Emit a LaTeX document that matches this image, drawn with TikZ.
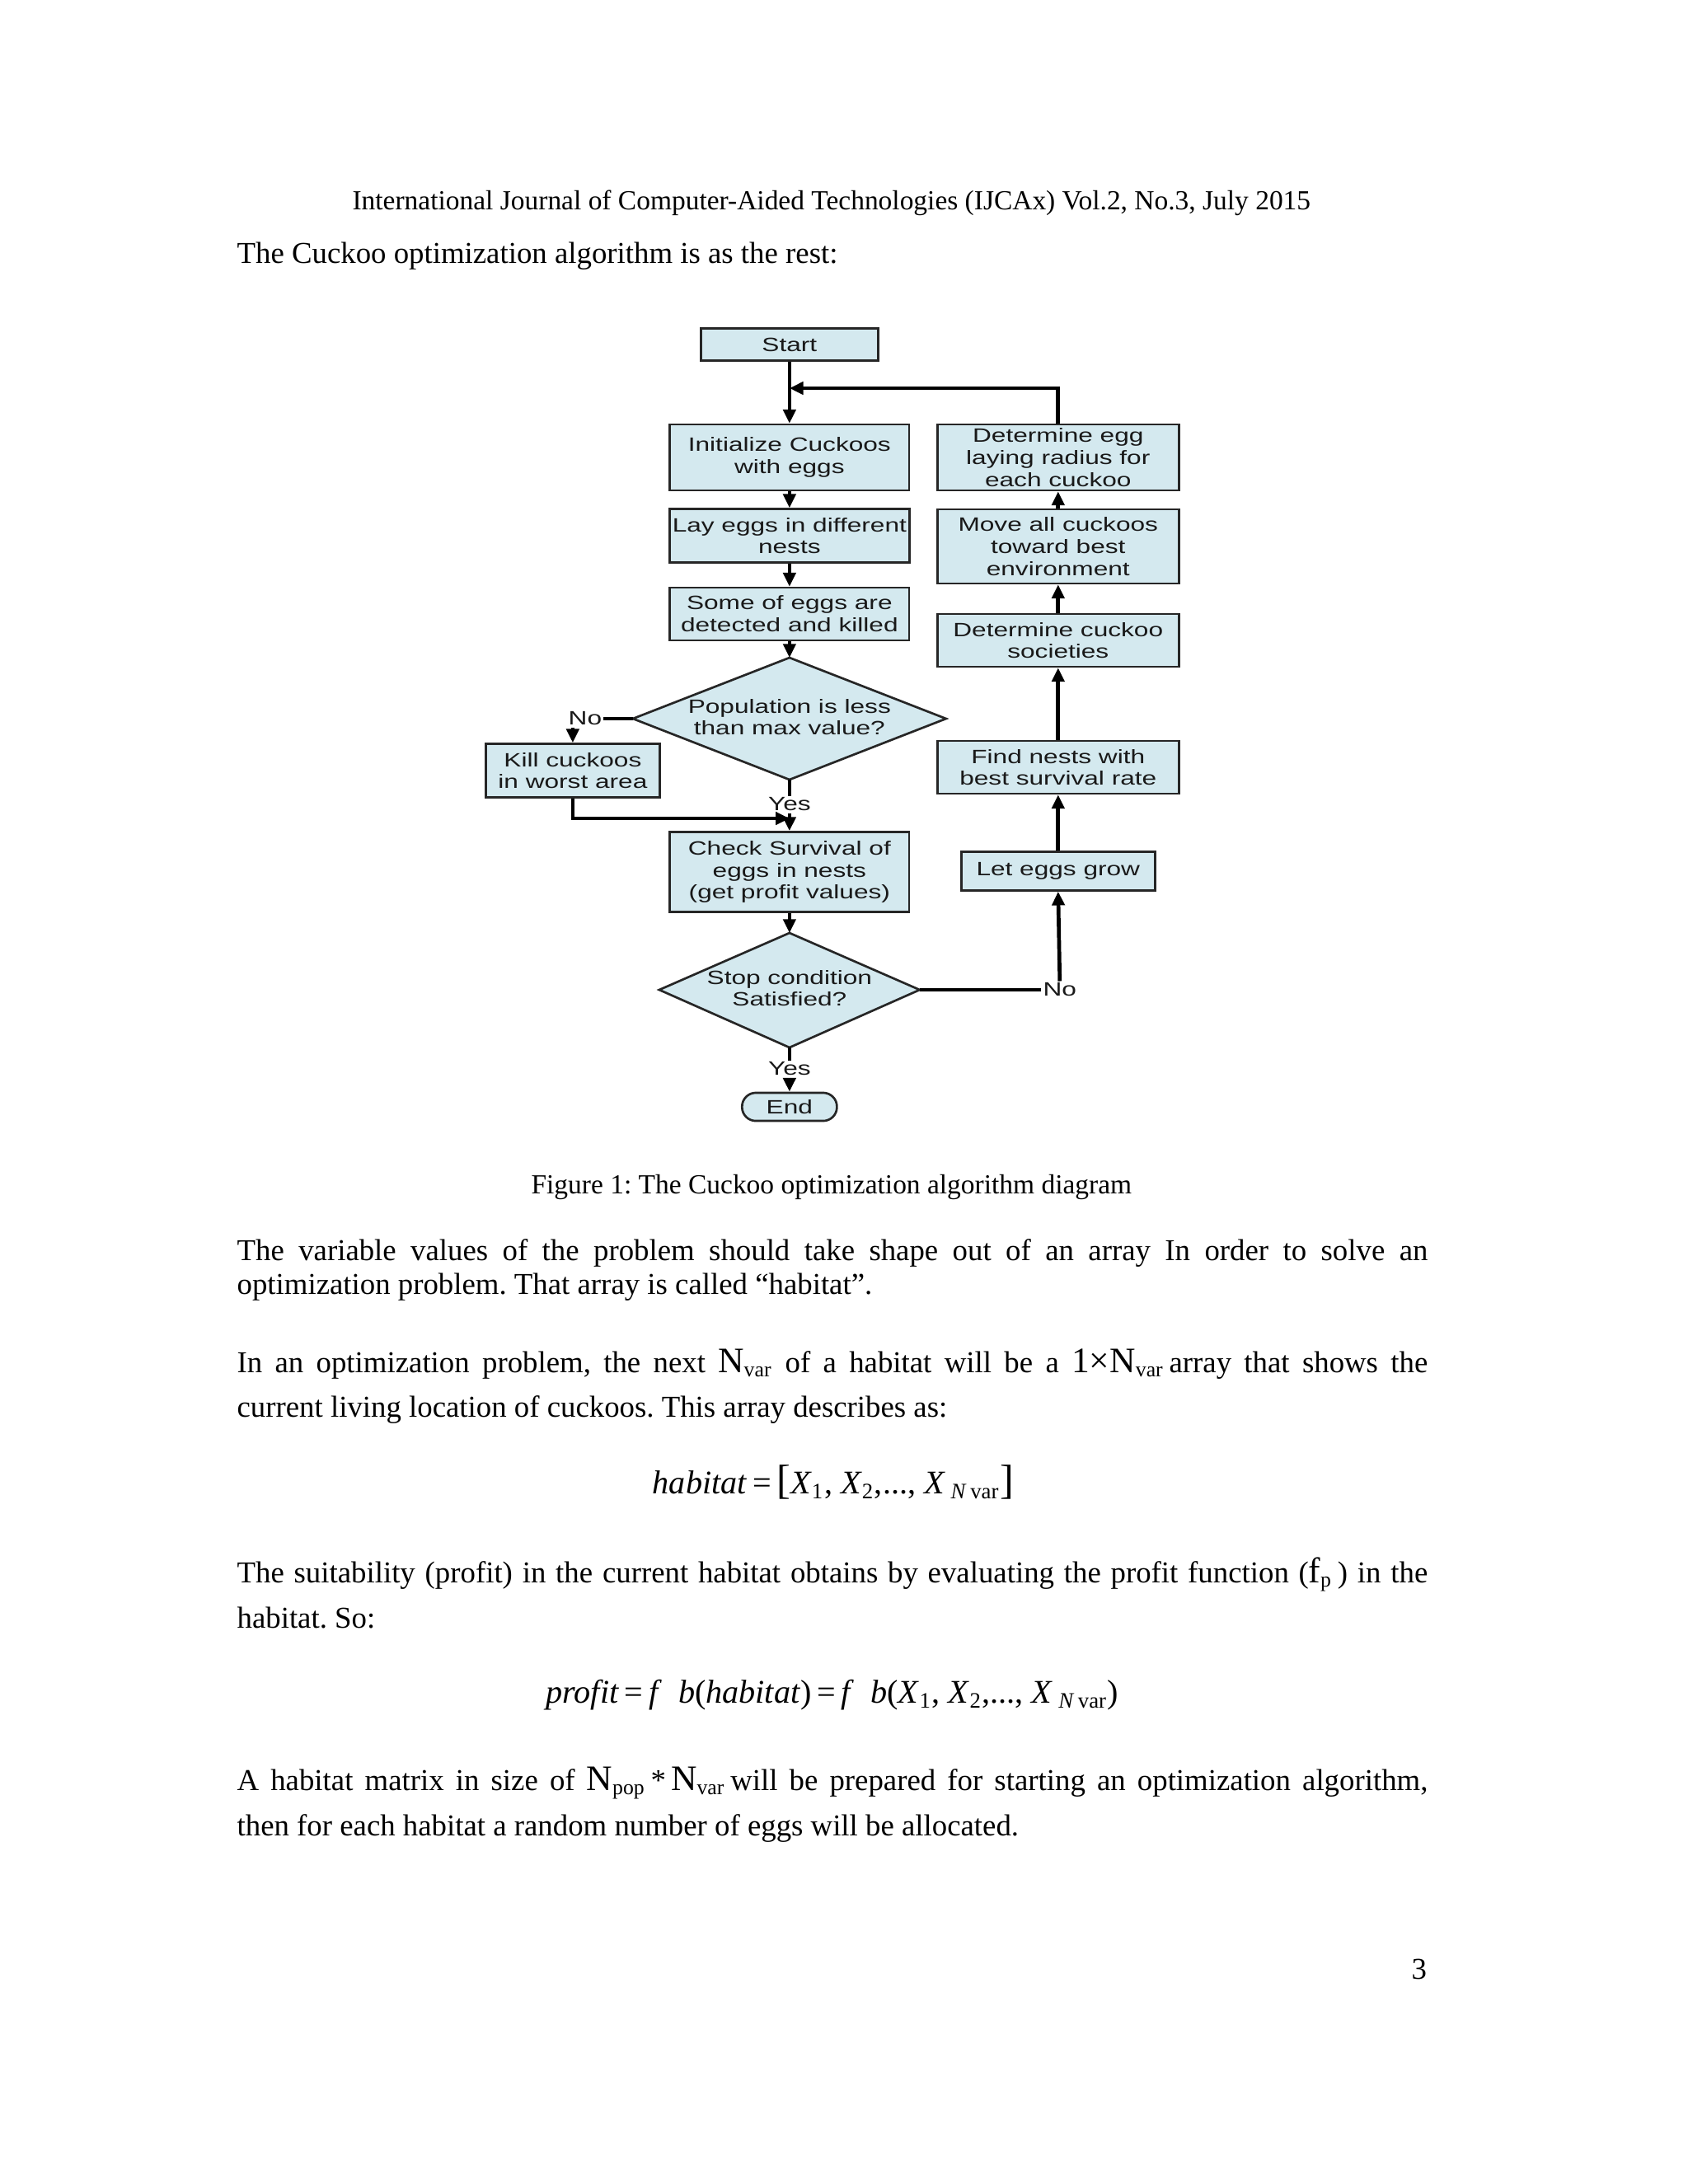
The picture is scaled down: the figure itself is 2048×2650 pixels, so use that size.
\documentclass[tikz,border=0pt]{standalone}
\usepackage{fontspec}
\setmainfont{Liberation Serif}
\newfontfamily\fcfont[FakeStretch=1.35]{Liberation Sans}
\usetikzlibrary{shapes.geometric,arrows.meta}
\definecolor{cfill}{RGB}{212,233,239}
\newlength\tw \setlength\tw{431.8pt}
\newcommand\sub[1]{\textsubscript{#1}}
\newcommand\bigN{{\fontsize{13}{13}\selectfont N}}
\frenchspacing
\begin{document}
\begin{tikzpicture}[x=0.29883pt,y=-0.29887pt,
  fcbox/.style={draw=black!85, line width=0.8pt, fill=cfill, font=\fcfont\fontsize{7}{8}\selectfont, align=center, inner sep=1pt, text=black!90},
  fcshape/.style={draw=black!85, line width=0.8pt, fill=cfill},
  conn/.style={line width=1.4pt, -{Triangle[width=4.5pt,length=5pt]}},
  plainln/.style={line width=1.4pt},
  thinln/.style={line width=1pt},
  lbl/.style={font=\fcfont\fontsize{7}{8}\selectfont, inner sep=0.5pt, text=black!90, align=center},
  body/.style={font=\fontsize{11}{13}\selectfont, inner sep=0pt, anchor=base west},
  bodyc/.style={font=\fontsize{11}{13}\selectfont, inner sep=0pt, anchor=base}]
\useasboundingbox[fill=white] (0,0) rectangle (2048,2650);

% header and text
\node[font=\fontsize{10}{12}\selectfont, inner sep=0pt, anchor=base] (hdr) at (1009,254) {International Journal of Computer-Aided Technologies (IJCAx) Vol.2, No.3, July 2015};
\node[body] (intro) at (287,319) {The Cuckoo optimization algorithm is as the rest:};

% flowchart boxes
\node[fcbox, minimum width=64.2pt, minimum height=11.7pt] (start) at (958,418) {Start};
\node[fcbox, minimum width=86.7pt, minimum height=23.9pt] (init) at (958,555) {Initialize Cuckoos\\with eggs};
\node[fcbox, minimum width=86.7pt, minimum height=19.4pt] (lay) at (958,650) {Lay eggs in different\\nests};
\node[fcbox, minimum width=86.7pt, minimum height=19.1pt] (some) at (958,745) {Some of eggs are\\detected and killed};

% population diamond
\coordinate (popn) at (958,798);
\coordinate (pope) at (1148,872);
\coordinate (pops) at (958,946);
\coordinate (popw) at (768,872);
\draw[fcshape] (popn) -- (pope) -- (pops) -- (popw) -- cycle;
\node[lbl] (poptxt) at (958,870) {Population is less\\than max value?};

\node[fcbox, minimum width=63pt, minimum height=19.4pt] (kill) at (695,935) {Kill cuckoos\\in worst area};
\node[fcbox, minimum width=86.7pt, minimum height=29pt] (check) at (958,1058) {Check Survival of\\eggs in nests\\(get profit values)};

% stop diamond
\coordinate (stopn) at (958,1132);
\coordinate (stope) at (1116,1201);
\coordinate (stops) at (958,1271);
\coordinate (stopw) at (800,1201);
\draw[fcshape] (stopn) -- (stope) -- (stops) -- (stopw) -- cycle;
\node[lbl] (stoptxt) at (958,1199) {Stop condition\\Satisfied?};

\node[fcbox, rounded corners=5pt, minimum width=34.4pt, minimum height=10.2pt] (endn) at (958,1343) {End};

\node[fcbox, minimum width=87.5pt, minimum height=23.9pt] (detegg) at (1284,555) {Determine egg\\laying radius for\\each cuckoo};
\node[fcbox, minimum width=87.5pt, minimum height=26.9pt] (move) at (1284,663) {Move all cuckoos\\toward best\\environment};
\node[fcbox, minimum width=87.5pt, minimum height=19.1pt] (detsoc) at (1284,777) {Determine cuckoo\\societies};
\node[fcbox, minimum width=87.5pt, minimum height=19.1pt] (find) at (1284,931) {Find nests with\\best survival rate};
\node[fcbox, minimum width=70.2pt, minimum height=14pt] (grow) at (1284,1057) {Let eggs grow};

% labels
\node[lbl] (no1) at (710,872) {No};
\node[lbl] (yes1) at (958,976) {Yes};
\node[lbl] (yes2) at (958,1297) {Yes};
\node[lbl] (no2) at (1286,1201) {No};

% coordinates
\coordinate (loopj) at (958,471);
\coordinate (loopc) at (1284,471);
\coordinate (killc) at (695,993);
\coordinate (killj) at (958,993);
\coordinate (noarr) at (kill.north |- no1.south);

% connectors
\draw[conn] (start.south) -- (init.north);
\draw[conn] (detegg.north) -- (loopc) -- (loopj);
\draw[conn] (init.south) -- (lay.north);
\draw[conn] (lay.south) -- (some.north);
\draw[conn] (some.south) -- (popn);
\draw[thinln] (popw) -- (no1.east);
\draw[conn] (noarr) -- (kill.north);
\draw[plainln] (pops) -- (yes1.north);
\draw[conn] (yes1.south) -- (check.north);
\draw[conn] (kill.south) -- (killc) -- (killj);
\draw[conn] (check.south) -- (stopn);
\draw[plainln] (stops) -- (yes2.north);
\draw[conn] (yes2.south) -- (endn.north);
\draw[thinln] (stope) -- (no2.west);
\draw[conn] (no2.north) -- (grow.south);
\draw[conn] (grow.north) -- (find.south);
\draw[conn] (find.north) -- (detsoc.south);
\draw[conn] (detsoc.north) -- (move.south);
\draw[conn] (move.north) -- (detegg.south);

% caption
\node[bodyc, font=\fontsize{10}{12}\selectfont] (cap) at (1009,1448) {Figure 1: The Cuckoo optimization algorithm diagram};

% paragraph 1
\node[body] (p1a) at (287,1529) {\makebox[\tw][s]{The variable values of the problem should take shape out of an array In order to solve an}};
\node[body] (p1b) at (287,1570) {optimization problem. That array is called “habitat”.};

% paragraph 2
\node[body] (p2a) at (287,1665) {\makebox[\tw][s]{In an optimization problem, the next \bigN\sub{var} of a habitat will be a {\fontsize{13}{13}\selectfont 1×N}\sub{var}\,array that shows the}};
\node[body] (p2b) at (287,1719) {current living location of cuckoos. This array describes as:};

% equation 1
\node[bodyc, font=\fontsize{12}{14}\selectfont] (eq1) at (1011,1812) {\textit{habitat}\,=\,{\fontsize{15}{15}\selectfont[}\textit{X}\sub{1}, \textit{X}\sub{2},..., \textit{X}\,\sub{\textit{N}\,var}{\fontsize{15}{15}\selectfont]}};

% paragraph 3
\node[body] (p3a) at (287,1920) {\makebox[\tw][s]{The suitability (profit) in the current habitat obtains by evaluating the profit function ({\fontsize{13}{13}\selectfont f}\sub{p}\,) in the}};
\node[body] (p3b) at (287,1975) {habitat. So:};

% equation 2
\node[bodyc, font=\fontsize{12}{14}\selectfont] (eq2) at (1010,2066) {\textit{profit}\,=\,\textit{f}\ \ \textit{b}(\textit{habitat})\,=\,\textit{f}\ \ \textit{b}(\textit{X}\sub{1}, \textit{X}\sub{2},..., \textit{X}\,\sub{\textit{N}\,var})};

% paragraph 4
\node[body] (p4a) at (287,2172) {\makebox[\tw][s]{A habitat matrix in size of \bigN\sub{pop}\,*\,\bigN\sub{var}\,will be prepared for starting an optimization algorithm,}};
\node[body] (p4b) at (287,2227) {then for each habitat a random number of eggs will be allocated.};

% page number
\node[body, anchor=base east] (pg) at (1732,2401) {3};
\end{tikzpicture}
\end{document}
